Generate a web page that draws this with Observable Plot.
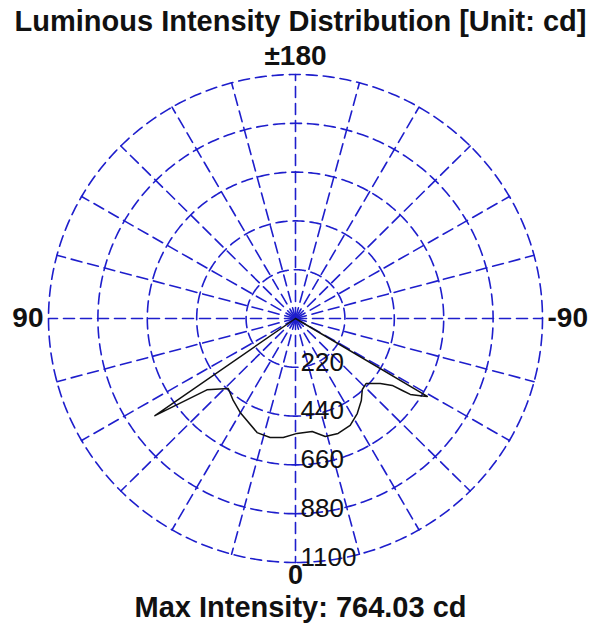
<!DOCTYPE html>
<html>
<head>
<meta charset="utf-8">
<script src="https://cdn.jsdelivr.net/npm/d3@7"></script>
<script src="https://cdn.jsdelivr.net/npm/@observablehq/plot@0.6"></script>
<style>
  html, body { margin: 0; padding: 0; background: #ffffff; }
  #wrap { width: 601px; font-family: "Liberation Sans", Arial, sans-serif; }
  .title { height: 36px; line-height: 42px; font-size: 29px; font-weight: bold; text-align: center; color: #111; white-space: nowrap; overflow: visible; }
  .caption { height: 33px; line-height: 31px; font-size: 29px; font-weight: bold; text-align: center; color: #111; white-space: nowrap; }
  svg { display: block; }
</style>
</head>
<body>
<div id="wrap">
  <div class="title">Luminous Intensity Distribution [Unit: cd]</div>
  <div id="chart"></div>
  <div class="caption">Max Intensity: 764.03 cd</div>
</div>
<script>
// Ring values (cd) and spoke angles (degrees)
const rings = [220, 440, 660, 880, 1100];
const spokeAngles = [0, 15, 30, 45, 60, 75, 90, 105, 120, 135, 150, 165, 180, 195, 210, 225, 240, 255, 270, 285, 300, 315, 330, 345];

// Curve: angle (deg, 0 = down, +90 = left) and intensity (cd)
const curveAngles = [57, 55, 50.8, 43.5, 36.9, 30.2, 18.4, 11.9, 5.8, -0.8, -8.3, -14.0, -20.1, -26.8, -32.7, -38.4, -42.9, -47.1, -52.2, -55.0, -55.7, -56.2, -57.6, -59.1, -61];
const curveIntensity = [0, 764, 509, 435, 462, 490, 542, 548, 539, 518, 515, 548, 552, 540, 509, 472, 437, 430, 478, 526, 576, 615, 647, 684, 0];

const blue = "#1e1ecc";
const rad = Math.PI / 180;
const toXY = (a, r) => ({x: -r * Math.sin(a * rad), y: -r * Math.cos(a * rad)});

const ringPts = rings.flatMap(r => d3.range(0, 361, 1).map(a => ({...toXY(a, r), ring: r})));
const spokePts = spokeAngles.flatMap(a => [{...toXY(a, 0), a}, {...toXY(a, 1100), a}]);
const curve = curveAngles.map((a, i) => toXY(a, curveIntensity[i]));

const chart = Plot.plot({
  width: 601,
  height: 556,
  marginLeft: 48,
  marginRight: 59,
  marginTop: 38,
  marginBottom: 30,
  style: {background: "#ffffff", fontFamily: "'Liberation Sans', Arial, sans-serif"},
  x: {domain: [-1100, 1100], axis: null},
  y: {domain: [-1100, 1100], axis: null},
  marks: [
    Plot.line(ringPts, {x: "x", y: "y", z: "ring", stroke: blue, strokeWidth: 1.6, strokeDasharray: "11,6"}),
    Plot.line(spokePts, {x: "x", y: "y", z: "a", stroke: blue, strokeWidth: 1.6, strokeDasharray: "11,6"}),
    Plot.line(curve, {x: "x", y: "y", stroke: "#111", strokeWidth: 1.5}),
    Plot.text(rings, {x: d => 0, y: d => -d, text: d => String(d), textAnchor: "start", lineAnchor: "middle", dx: 5, dy: -5, fontSize: 26, fill: "#111"}),
    Plot.text(["±180"], {frameAnchor: "top", lineAnchor: "middle", dy: -18, fontSize: 28, fontWeight: "bold", fill: "#111"}),
    Plot.text(["0"], {frameAnchor: "bottom", lineAnchor: "middle", dy: 13, fontSize: 27, fontWeight: "bold", fill: "#111"}),
    Plot.text(["90"], {frameAnchor: "left", textAnchor: "end", lineAnchor: "middle", dx: -5, fontSize: 28, fontWeight: "bold", fill: "#111"}),
    Plot.text(["-90"], {frameAnchor: "right", textAnchor: "start", lineAnchor: "middle", dx: 5, fontSize: 28, fontWeight: "bold", fill: "#111"})
  ]
});
document.getElementById("chart").appendChild(chart);
</script>
</body>
</html>
